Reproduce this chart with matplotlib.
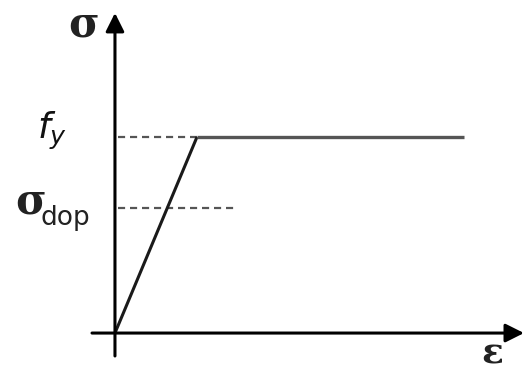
import matplotlib
matplotlib.use('Agg')
import matplotlib.pyplot as plt

# Idealised elastic - perfectly plastic stress-strain diagram
# (strain in units of yield strain, stress in units of fy)
strain = [0.0, 1.0, 4.26]
stress = [0.0, 1.0, 1.0]

f_y = 1.0
sigma_dop = 0.64
dop_line_end = 1.5

fig = plt.figure(figsize=(5.24, 3.75), dpi=100)
ax = fig.add_axes([0, 0, 1, 1])
ax.set_xlim(-1.402, 4.988)
ax.set_ylim(-0.214, 1.699)
ax.axis('off')

# Axes with arrow heads
arrow = dict(arrowstyle='-|>', lw=2.2, color='black',
             mutation_scale=28, shrinkA=0, shrinkB=0)
ax.annotate('', xy=(4.988, 0), xytext=(-0.28, 0), arrowprops=arrow)
ax.annotate('', xy=(0, 1.633), xytext=(0, -0.117), arrowprops=arrow)

# Reference levels
ax.plot([0.04, strain[1]], [f_y, f_y], color='#555555', lw=1.6,
        ls=(0, (3.2, 2.2)))
ax.plot([0.04, dop_line_end], [sigma_dop, sigma_dop], color='#555555',
        lw=1.6, ls=(0, (3.2, 2.2)))

# Stress-strain curve
ax.plot(strain[:2], stress[:2], color='#1a1a1a', lw=2.2, solid_capstyle='butt')
ax.plot(strain[1:], stress[1:], color='#555555', lw=2.4, solid_capstyle='butt')

# Labels
sym = dict(family='DejaVu Serif', fontweight='bold', color='#222222',
           ha='center', va='center')
ax.text(-0.38, 1.575, 'σ', fontsize=30, **sym)
ax.text(4.6, -0.105, 'ε', fontsize=26, **sym)
ax.text(-1.03, 0.67, 'σ', fontsize=30, **sym)
ax.text(-0.60, 0.585, 'dop', fontsize=19, family='DejaVu Sans',
        ha='center', va='center', color='#222222')
ax.text(-0.77, 1.03, '$f_y$', fontsize=26, ha='center', va='center',
        math_fontfamily='dejavusans', color='#111111')

fig.savefig('out.png', dpi=100)
